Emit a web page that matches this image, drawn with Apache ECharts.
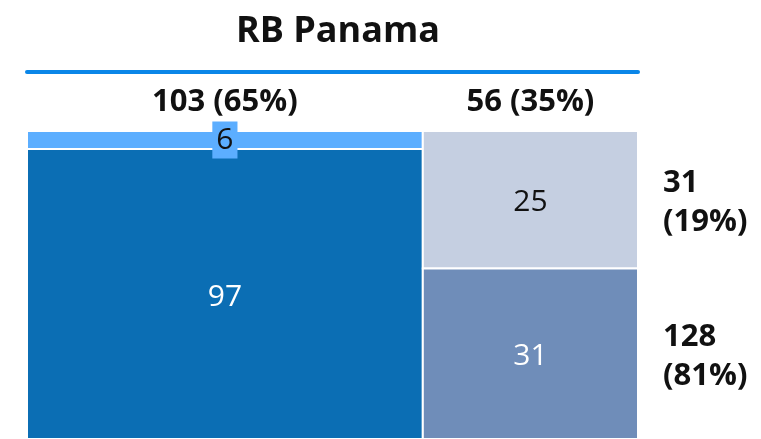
<!DOCTYPE html>
<html>
<head>
<meta charset="utf-8">
<script src="https://cdn.jsdelivr.net/npm/echarts@6/dist/echarts.min.js"></script>
<style>
  html, body { margin: 0; padding: 0; background: #fff; }
  #chart { width: 761px; height: 439px; }
</style>
</head>
<body>
<div id="chart"></div>
<script>
// values: two columns, two rows (top band, bottom band)
const topRow = [6, 25]
const bottomRow = [97, 31]
const rows = [topRow, bottomRow]
const cellColors = [
  ['#5caeff', '#c5cfe1'],
  ['#0b6eb4', '#6f8db9']
]
const labelColors = [
  ['#111', '#111'],
  ['#fff', '#fff']
]

const FONT = '"Open Sans", sans-serif'

const colTotals = topRow.map((v, i) => v + bottomRow[i])
const rowTotals = rows.map(r => r.reduce((a, b) => a + b, 0))
const grand = colTotals.reduce((a, b) => a + b, 0)
const pct = v => Math.round(v / grand * 100) + '%'

// cells: [x0, x1, y0, y1, value, row, col]
const cells = []
let xStart = 0
colTotals.forEach((tot, c) => {
  let yStart = 0
  rows.forEach((r, ri) => {
    const frac = r[c] / tot
    cells.push([xStart, xStart + tot, yStart, yStart + frac, r[c], ri, c])
    yStart += frac
  })
  xStart += tot
})

// column headers: [x0, x1, total]
const colLabels = []
xStart = 0
colTotals.forEach(tot => {
  colLabels.push([xStart, xStart + tot, tot])
  xStart += tot
})

// row headers placed beside the last column: [yMid, total]
const lastCol = colTotals.length - 1
const rowLabels = cells
  .filter(d => d[6] === lastCol)
  .map(d => [(d[2] + d[3]) / 2, rowTotals[d[5]]])

const chart = echarts.init(document.getElementById('chart'))

const option = {
  animation: false,
  title: {
    text: 'RB Panama',
    left: 333,
    textAlign: 'center',
    top: 9,
    textStyle: { fontFamily: FONT, fontSize: 36, fontWeight: 'bold', color: '#111' }
  },
  grid: { left: 27, right: 123, top: 131, height: 314 },
  xAxis: {
    type: 'value',
    min: 0,
    max: grand,
    position: 'top',
    offset: 59,
    axisLine: { show: true, onZero: false, lineStyle: { color: '#0a86e8', width: 4 } },
    axisTick: { show: false },
    axisLabel: { show: false },
    splitLine: { show: false }
  },
  yAxis: {
    type: 'value',
    min: 0,
    max: 1,
    inverse: true,
    show: false
  },
  series: [
    {
      type: 'custom',
      data: cells,
      renderItem: (params, api) => {
        const p0 = api.coord([api.value(0), api.value(2)])
        const p1 = api.coord([api.value(1), api.value(3)])
        const ri = api.value(5)
        const ci = api.value(6)
        const small = (p1[1] - p0[1]) < 30
        return {
          type: 'group',
          children: [
            {
              type: 'rect',
              shape: { x: p0[0], y: p0[1], width: p1[0] - p0[0], height: p1[1] - p0[1] },
              style: { fill: cellColors[ri][ci], stroke: '#fff', lineWidth: 2 }
            },
            {
              type: 'text',
              x: (p0[0] + p1[0]) / 2,
              y: (p0[1] + p1[1]) / 2 + (small ? 0 : 3),
              z2: 10,
              style: {
                text: String(api.value(4)),
                align: 'center',
                verticalAlign: 'middle',
                font: '30px ' + FONT,
                lineHeight: 33,
                fill: labelColors[ri][ci],
                backgroundColor: small ? cellColors[ri][ci] : null,
                padding: small ? [2, 4, 2, 4] : 0
              }
            }
          ]
        }
      }
    },
    {
      type: 'custom',
      data: colLabels,
      renderItem: (params, api) => {
        const a = api.coord([api.value(0), 0])
        const b = api.coord([api.value(1), 0])
        const tot = api.value(2)
        return {
          type: 'text',
          x: (a[0] + b[0]) / 2,
          y: a[1] - 29,
          style: {
            text: tot + ' (' + pct(tot) + ')',
            align: 'center',
            verticalAlign: 'middle',
            font: 'bold 31px ' + FONT,
            fill: '#111'
          }
        }
      }
    },
    {
      type: 'custom',
      data: rowLabels,
      renderItem: (params, api) => {
        const p = api.coord([grand, api.value(0)])
        const tot = api.value(1)
        return {
          type: 'text',
          x: p[0] + 25,
          y: p[1] + 3,
          style: {
            text: tot + '\n(' + pct(tot) + ')',
            align: 'left',
            verticalAlign: 'middle',
            font: 'bold 31px ' + FONT,
            lineHeight: 39,
            fill: '#111'
          }
        }
      }
    }
  ]
}

chart.setOption(option)
</script>
</body>
</html>
